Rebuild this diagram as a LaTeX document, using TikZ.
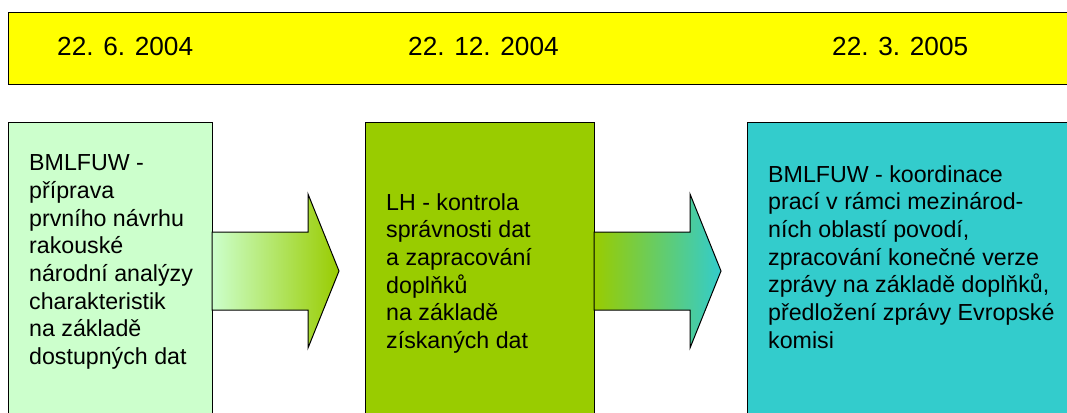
\documentclass[tikz,border=0pt]{standalone}
\usepackage{fontspec}
\setmainfont{Liberation Sans}
\usetikzlibrary{calc}
\definecolor{barYellow}{HTML}{FFFF00}
\definecolor{stageA}{HTML}{CCFFCC}
\definecolor{stageB}{HTML}{99CC00}
\definecolor{stageC}{HTML}{33CCCC}

\begin{document}
\begin{tikzpicture}[x=1pt, y=-1pt,
	stage/.style={draw=black, line width=1pt, anchor=north west, inner sep=0pt, outer sep=0pt, minimum height=298pt},
	flow/.style={draw=black, line width=1pt},
	datum/.style={anchor=base west, inner sep=0pt, font=\fontsize{26.2}{31}\selectfont},
	body/.style={anchor=base west, inner sep=0pt, align=left, font=\fontsize{23.2}{27.7}\selectfont}]
	\useasboundingbox (0,0) rectangle (1067,412);
	
	% time line
	\node[draw=black, line width=1pt, fill=barYellow, anchor=north west, inner sep=0pt, outer sep=0pt,
	minimum width=1080pt, minimum height=71.5pt] (datebar) at (8,12.5) {};
	\node[datum] (d1) at ($(datebar.north west)+(49,43)$) {22. 6. 2004};
	\node[datum] (d2) at ($(datebar.north west)+(400,43.5)$) {22. 12. 2004};
	\node[datum] (d3) at ($(datebar.north west)+(824,43.5)$) {22. 3. 2005};
	
	% stages
	\node[stage, fill=stageA, minimum width=204pt] (b1) at (8,122) {};
	\node[stage, fill=stageB, minimum width=229pt] (b2) at (365,122) {};
	\node[stage, fill=stageC, minimum width=340pt] (b3) at (747,122) {};
	
	\draw[flow, left color=stageA, right color=stageB] (b1.east) ++(0,-39) -- ++(96,0) -- ++(0,-38) 
	-- ++(31,77) -- ++(-31,77) -- ++(0,-38) -- ++(-96,0) -- cycle;
	\draw[flow, left color=stageB, right color=stageC] (b2.east) ++(0,-39) -- ++(96,0) -- ++(0,-38) 
	-- ++(31,77) -- ++(-31,77) -- ++(0,-38) -- ++(-96,0) -- cycle;
	
	% texts (base = last line)
	\node[body] (t1) at ($(b1.north west)+(21,242.6)$) {BMLFUW -\\příprava\\prvního návrhu\\rakouské\\národní analýzy\\charakteristik\\na základě\\dostupných dat};
	\node[body] (t2) at ($(b2.north west)+(21,226.5)$) {LH - kontrola\\správnosti dat\\a zapracování\\doplňků\\na základě\\získaných dat};
	\node[body] (t3) at ($(b3.north west)+(21,226.2)$) {BMLFUW - koordinace\\prací v rámci mezinárod-\\ních oblastí povodí,\\zpracování konečné verze\\zprávy na základě doplňků,\\předložení zprávy Evropské\\komisi};
\end{tikzpicture}
\end{document}
